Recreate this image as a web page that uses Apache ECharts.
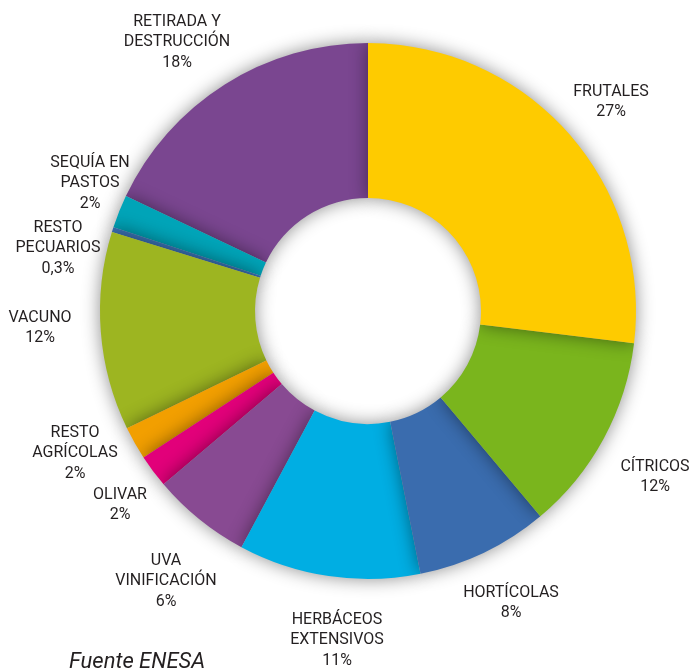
<!DOCTYPE html>
<html>
<head>
<meta charset="utf-8">
<title>ENESA</title>
<script src="https://cdn.jsdelivr.net/npm/echarts@6/dist/echarts.min.js"></script>
<style>
  html, body { margin: 0; padding: 0; background: #fff; }
  #chart { width: 692px; height: 668px; }
</style>
</head>
<body>
<div id="chart"></div>
<script>
// slices clockwise from 12 o'clock
var categories = ['FRUTALES', 'CÍTRICOS', 'HORTÍCOLAS', 'HERBÁCEOS\nEXTENSIVOS', 'UVA\nVINIFICACIÓN',
	'OLIVAR', 'RESTO\nAGRÍCOLAS', 'VACUNO', 'RESTO\nPECUARIOS', 'SEQUÍA EN\nPASTOS', 'RETIRADA Y\nDESTRUCCIÓN'];
var values = [27, 12, 8, 11, 6, 2, 2, 12, 0.3, 2, 18];
var pctLabels = ['27%', '12%', '8%', '11%', '6%', '2%', '2%', '12%', '0,3%', '2%', '18%'];

var colors = ['#fecb00', '#7ab51d', '#3a6cae', '#00aee3', '#884a92',
	'#e2007a', '#f29f00', '#9db521', '#3a72b4', '#00a4b8', '#7a4690'];
// label centres (px)
var labelPos = [[611, 102], [655, 477], [511, 603], [337, 640], [166, 581],
	[120, 505], [75, 453], [40, 328], [58, 248], [90, 183], [177, 42]];

var n = categories.length;
var pieData = [];
// drawn in reverse so each slice shades the one after it
for (var i = n - 1; i >= 0; i--) {
	pieData.push({
		name: categories[i],
		value: values[i],
		pct: pctLabels[i],
		itemStyle: { color: colors[i] }
	});
}

var myChart = echarts.init(document.getElementById('chart'));
var option = {
	backgroundColor: '#fff',
	animation: false,
	title: {
		text: 'Fuente ENESA',
		left: 64,
		top: 646,
		textStyle: {
			fontFamily: 'Roboto',
			fontStyle: 'italic',
			fontWeight: 'normal',
			fontSize: 22,
			color: '#231f20'
		}
	},
	series: [{
		type: 'pie',
		center: [368, 311],
		radius: [113, 268],
		startAngle: 90,
		clockwise: false,
		avoidLabelOverlap: false,
		data: pieData,
		itemStyle: {
			shadowBlur: 18,
			shadowColor: 'rgba(0,0,0,0.45)'
		},
		emphasis: { disabled: true },
		label: {
			show: true,
			position: 'outside',
			formatter: function (p) {
				return p.name + '\n' + p.data.pct;
			},
			fontFamily: 'Roboto',
			fontSize: 16,
			lineHeight: 20.5,
			color: '#231f20',
			align: 'center'
		},
		labelLine: { show: false },
		labelLayout: function (params) {
			var p = labelPos[n - 1 - params.dataIndex];
			return {
				x: p[0],
				y: p[1],
				align: 'center',
				verticalAlign: 'middle'
			};
		}
	}]
};
myChart.setOption(option);
</script>
</body>
</html>
